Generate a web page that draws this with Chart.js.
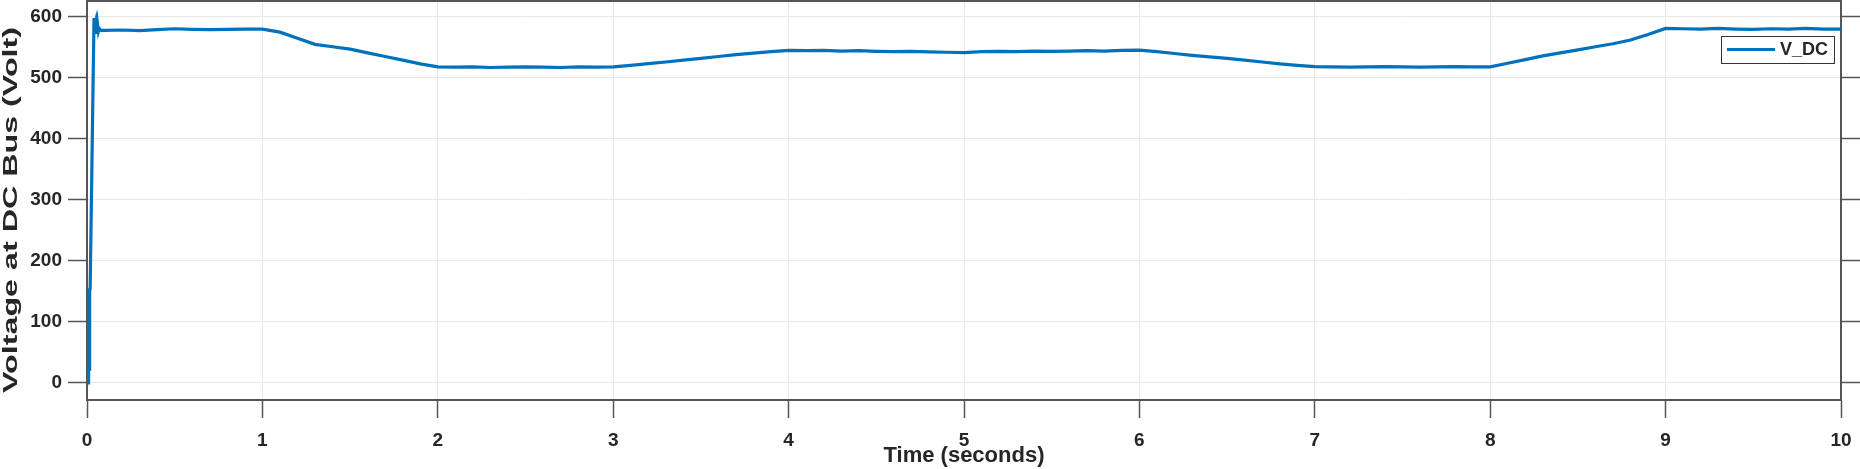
<!DOCTYPE html>
<html>
<head>
<meta charset="utf-8">
<title>V_DC</title>
<script src="https://cdn.jsdelivr.net/npm/chart.js@4.4.1/dist/chart.umd.min.js"></script>
<style>
  html, body { margin: 0; padding: 0; background: #fff; }
  #wrap { width: 1860px; height: 469px; }
</style>
</head>
<body>
<div id="wrap"><canvas id="vdcChart" width="1860" height="469"></canvas></div>
<script>
// time (s) and DC bus voltage (V)
const timeS = [0, 0.006, 0.008, 0.010, 0.012, 0.014, 0.016, 0.018, 0.040, 0.045, 0.050, 0.055, 0.060, 0.065, 0.070, 0.080,
  0.1, 0.2, 0.3, 0.4, 0.5, 0.6, 0.7, 0.8, 0.9, 1.0,
  1.1, 1.2, 1.3, 1.4, 1.5, 1.6, 1.7, 1.8, 1.9, 2.0,
  2.1, 2.2, 2.3, 2.4, 2.5, 2.6, 2.7, 2.8, 2.9, 3.0,
  3.1, 3.2, 3.3, 3.4, 3.5, 3.6, 3.7, 3.8, 3.9, 4.0,
  4.1, 4.2, 4.3, 4.4, 4.5, 4.6, 4.7, 4.8, 4.9, 5.0,
  5.1, 5.2, 5.3, 5.4, 5.5, 5.6, 5.7, 5.8, 5.9, 6.0,
  6.1, 6.2, 6.3, 6.4, 6.5, 6.6, 6.7, 6.8, 6.9, 7.0,
  7.1, 7.2, 7.3, 7.4, 7.5, 7.6, 7.7, 7.8, 7.9, 8.0,
  8.1, 8.2, 8.3, 8.4, 8.5, 8.6, 8.7, 8.8, 8.9, 9.0,
  9.1, 9.2, 9.3, 9.4, 9.5, 9.6, 9.7, 9.8, 9.9, 10.0];
const vdcV = [0, 0, 150, 10, 155, 20, 150, 155, 598, 585, 592, 572, 588, 576, 581, 578,
  578, 578.5, 577.5, 579, 580.5, 579.5, 579, 579.5, 580, 580,
  575, 565, 555, 551, 547, 541, 535, 529, 523, 518,
  517.5, 518, 517, 517.5, 518, 517.5, 517, 518, 517.5, 518,
  520.5, 523.5, 526, 529, 532, 535, 538, 540.5, 543, 545,
  544.5, 545, 544, 544.5, 543.5, 543, 543.5, 542.5, 542, 541.5,
  543, 543.5, 543, 544, 543.5, 544, 544.5, 544, 545, 545.5,
  543, 540, 537, 534.5, 532, 529, 526, 523, 520.5, 518.5,
  518, 517.5, 518, 518.5, 518, 517.5, 518, 518.5, 518, 518,
  524, 530, 536, 541, 546, 551, 556, 562, 571, 581,
  580.5, 580, 581, 580, 579.5, 580.5, 580, 581, 580, 580];
const xTicks = [0, 1, 2, 3, 4, 5, 6, 7, 8, 9, 10];
const yTicks = [0, 100, 200, 300, 400, 500, 600];
const seriesName = 'V_DC';
const yTitle = 'Voltage at DC Bus (Volt)';

const FONT = '"Liberation Sans", Arial, Helvetica, sans-serif';
const AXIS = '#555555';
const GRID = '#e8e8e8';
const TEXT = '#262626';
const BLUE = '#0072BD';

// top edge of the box, legend inside the axes, stretched y title
const boxPlugin = {
  id: 'boxAndLegend',
  afterDraw(chart){
    const ctx = chart.ctx, a = chart.chartArea;
    ctx.save();
    ctx.strokeStyle = AXIS; ctx.lineWidth = 2;
    ctx.beginPath(); ctx.moveTo(a.left, a.top); ctx.lineTo(a.right, a.top); ctx.stroke();

    const bx = a.right - 120, by = 36, bw = 113, bh = 27;
    ctx.fillStyle = '#fff'; ctx.fillRect(bx, by, bw, bh);
    ctx.strokeStyle = '#333'; ctx.lineWidth = 1;
    ctx.strokeRect(bx + 0.5, by + 0.5, bw, bh);
    ctx.strokeStyle = BLUE; ctx.lineWidth = 3;
    ctx.beginPath(); ctx.moveTo(bx + 6, by + 13.5); ctx.lineTo(bx + 54, by + 13.5); ctx.stroke();
    ctx.fillStyle = TEXT; ctx.font = 'bold 18px ' + FONT;
    ctx.textBaseline = 'middle'; ctx.textAlign = 'left';
    ctx.fillText(chart.data.datasets[0].label, bx + 59, by + 14.5);

    // y title: the reference stretches it along the axis
    ctx.font = 'bold 21px ' + FONT;
    const w = ctx.measureText(yTitle).width;
    ctx.translate(11, 210);
    ctx.rotate(-Math.PI / 2);
    ctx.scale(366 / w, 1);
    ctx.textAlign = 'center';
    ctx.fillText(yTitle, 0, 0);
    ctx.restore();
  }
};

new Chart(document.getElementById('vdcChart'), {
  type: 'line',
  data: {
    datasets: [{
      label: seriesName,
      data: timeS.map((t, i) => ({ x: t, y: vdcV[i] })),
      borderColor: BLUE,
      borderWidth: 3.2,
      pointRadius: 0,
      tension: 0,
      fill: false
    }]
  },
  options: {
    responsive: false,
    animation: false,
    devicePixelRatio: 1,
    layout: { padding: { top: 1, left: 0, right: 0, bottom: 0 } },
    plugins: { legend: { display: false }, tooltip: { enabled: false } },
    scales: {
      x: {
        type: 'linear', min: 0, max: 10,
        afterBuildTicks: s => { s.ticks = xTicks.map(v => ({ value: v })); },
        afterFit: s => { s.height = 69; s.paddingLeft = 0; s.paddingRight = 0; },
        ticks: { color: TEXT, font: { family: FONT, size: 19, weight: 'bold' }, padding: 11, maxRotation: 0 },
        grid: { color: GRID, tickColor: AXIS, tickLength: 18, tickWidth: 1.5 },
        border: { color: AXIS, width: 2 },
        title: { display: true, text: 'Time (seconds)', color: TEXT,
                 font: { family: FONT, size: 22, weight: 'bold', lineHeight: 1.2 }, padding: { top: 0, bottom: 0 } }
      },
      y: {
        type: 'linear', position: 'left', min: -28, max: 626,
        afterBuildTicks: s => { s.ticks = yTicks.map(v => ({ value: v })); },
        afterFit: s => { s.width = 87; s.paddingTop = 0; s.paddingBottom = 0; },
        ticks: { color: TEXT, font: { family: FONT, size: 19, weight: 'bold' }, padding: 6 },
        grid: { color: GRID, tickColor: AXIS, tickLength: 19, tickWidth: 1.5 },
        border: { color: AXIS, width: 2 }
      },
      y2: {
        type: 'linear', position: 'right', min: -28, max: 626,
        afterBuildTicks: s => { s.ticks = yTicks.map(v => ({ value: v })); },
        afterFit: s => { s.width = 19; s.paddingTop = 0; s.paddingBottom = 0; },
        ticks: { display: false },
        grid: { color: 'rgba(0,0,0,0)', tickColor: AXIS, tickLength: 19, tickWidth: 1.5 },
        border: { color: AXIS, width: 2 }
      }
    }
  },
  plugins: [boxPlugin]
});
</script>
</body>
</html>
